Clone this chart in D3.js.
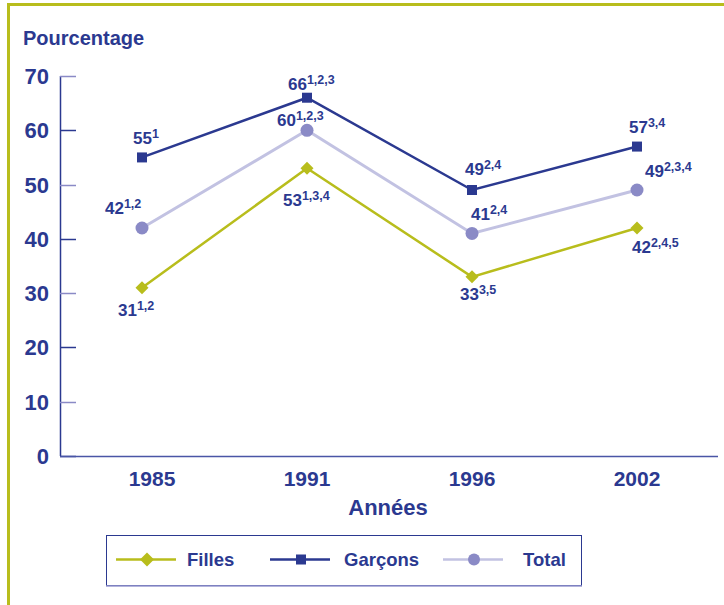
<!DOCTYPE html>
<html>
<head>
<meta charset="utf-8">
<script src="https://cdn.jsdelivr.net/npm/d3@7"></script>
<style>
  body { margin: 0; background: #fff; }
  svg text { font-family: "Liberation Sans", Arial, sans-serif; font-weight: bold; fill: #2b3990; }
</style>
</head>
<body>
<div id="chart"></div>
<script>
// data
var years = ["1985", "1991", "1996", "2002"];
var filles = [31, 53, 33, 42];
var garcons = [55, 66, 49, 57];
var total = [42, 60, 41, 49];
var fillesNotes = ["1,2", "1,3,4", "3,5", "2,4,5"];
var garconsNotes = ["1", "1,2,3", "2,4", "3,4"];
var totalNotes = ["1,2", "1,2,3", "2,4", "2,3,4"];
var yTicks = [0, 10, 20, 30, 40, 50, 60, 70];

var width = 724, height = 605;
var olive = "#b8bd1c", navy = "#2b3990", lav = "#c2c2e2", lavDot = "#8a8ac6";

var svg = d3.select("#chart").append("svg")
  .attr("width", width)
  .attr("height", height);

// frame (top + left only)
svg.append("path")
  .attr("d", "M8.5,605 L8.5,4.5 L724,4.5")
  .attr("fill", "none")
  .attr("stroke", olive)
  .attr("stroke-width", 3);

var x = d3.scalePoint().domain(years).range([142, 637]);
var y = d3.scaleLinear().domain([0, 70]).range([456, 76]);

svg.append("text")
  .attr("x", 23).attr("y", 45)
  .style("font-size", "20px")
  .text("Pourcentage");

// y axis
svg.append("line")
  .attr("x1", 60.5).attr("x2", 60.5)
  .attr("y1", y(70)).attr("y2", y(0))
  .attr("stroke", navy).attr("stroke-width", 1.5);

svg.selectAll(".ytick").data(yTicks).enter().append("line")
  .attr("class", "ytick")
  .attr("x1", 60).attr("x2", 76)
  .attr("y1", d => Math.round(y(d)) + 0.5).attr("y2", d => Math.round(y(d)) + 0.5)
  .attr("stroke", (d, i) => i % 2 == 0 ? navy : "#8a8ac6")
  .attr("stroke-width", 1.5);

svg.selectAll(".ylab").data(yTicks).enter().append("text")
  .attr("class", "ylab")
  .attr("x", 49)
  .attr("y", d => y(d) + 8)
  .attr("text-anchor", "end")
  .style("font-size", "22px")
  .text(d => d);

// x axis
svg.append("line")
  .attr("x1", 60).attr("x2", 718)
  .attr("y1", y(0) + 0.5).attr("y2", y(0) + 0.5)
  .attr("stroke", "#4a56a6").attr("stroke-width", 1.5);

svg.selectAll(".xlab").data(years).enter().append("text")
  .attr("class", "xlab")
  .attr("x", (d, i) => x(d) + (i == 0 ? 10 : 0))
  .attr("y", 486)
  .attr("text-anchor", "middle")
  .style("font-size", "21px")
  .text(d => d);

svg.append("text")
  .attr("x", 388).attr("y", 515)
  .attr("text-anchor", "middle")
  .style("font-size", "22px")
  .text("Années");

var line = d3.line().x((d, i) => x(years[i])).y(d => y(d));

function drawSeries(vals, color, width) {
  svg.append("path")
    .datum(vals)
    .attr("d", line)
    .attr("fill", "none")
    .attr("stroke", color)
    .attr("stroke-width", width);
}
drawSeries(total, lav, 3);
drawSeries(filles, olive, 2.5);
drawSeries(garcons, navy, 2.5);

// markers
svg.selectAll(".dot").data(total).enter().append("circle")
  .attr("cx", (d, i) => x(years[i])).attr("cy", d => y(d))
  .attr("r", 6.5).attr("fill", lavDot);

svg.selectAll(".sq").data(garcons).enter().append("rect")
  .attr("x", (d, i) => x(years[i]) - 5).attr("y", d => y(d) - 5)
  .attr("width", 10).attr("height", 10).attr("fill", navy);

svg.selectAll(".dia").data(filles).enter().append("path")
  .attr("transform", (d, i) => "translate(" + x(years[i]) + "," + y(d) + ")")
  .attr("d", "M0,-6.5 L6.5,0 L0,6.5 L-6.5,0 Z")
  .attr("fill", olive);

// value labels: offset of the label's left edge / baseline from its point
var garconsPos = [[-9, -13], [-19, -8], [-7, -15], [-8, -14]];
var totalPos = [[-37, -14], [-30, -4], [-1, -13], [8, -13]];
var fillesPos = [[-24, 28], [-24, 38], [-12, 23], [-5, 25]];

function labels(vals, notes, pos) {
  vals.forEach(function(v, i) {
    var t = svg.append("text")
      .attr("x", x(years[i]) + pos[i][0])
      .attr("y", y(v) + pos[i][1])
      .style("font-size", "17px");
    t.append("tspan").text(v);
    t.append("tspan")
      .attr("dy", -6)
      .style("font-size", "12.5px")
      .text(notes[i]);
  });
}
labels(garcons, garconsNotes, garconsPos);
labels(total, totalNotes, totalPos);
labels(filles, fillesNotes, fillesPos);

// legend
var lg = svg.append("g");
lg.append("rect")
  .attr("x", 106.5).attr("y", 535.5)
  .attr("width", 475).attr("height", 50)
  .attr("fill", "none").attr("stroke", navy).attr("stroke-width", 1);
lg.append("line")
  .attr("x1", 106).attr("x2", 582).attr("y1", 586).attr("y2", 586)
  .attr("stroke", "#9a9ad0").attr("stroke-width", 1.5);

var legendItems = [
  {name: "Filles", color: olive, x: 116, tx: 187, mark: "dia"},
  {name: "Garçons", color: navy, x: 270, tx: 344, mark: "sq"},
  {name: "Total", color: lav, x: 443, tx: 523, mark: "dot"}
];
legendItems.forEach(function(it) {
  var cy = 559.5;
  lg.append("line")
    .attr("x1", it.x).attr("x2", it.x + 60)
    .attr("y1", cy).attr("y2", cy)
    .attr("stroke", it.color).attr("stroke-width", 2.5);
  var cx = it.x + 31;
  if (it.mark == "dia") {
    lg.append("path")
      .attr("transform", "translate(" + cx + "," + cy + ")")
      .attr("d", "M0,-7 L7,0 L0,7 L-7,0 Z")
      .attr("fill", olive);
  } else if (it.mark == "sq") {
    lg.append("rect")
      .attr("x", cx - 5).attr("y", cy - 5)
      .attr("width", 10).attr("height", 10).attr("fill", navy);
  } else {
    lg.append("circle")
      .attr("cx", cx).attr("cy", cy).attr("r", 6).attr("fill", lavDot);
  }
  lg.append("text")
    .attr("x", it.tx).attr("y", cy + 6)
    .style("font-size", "18.5px")
    .text(it.name);
});
</script>
</body>
</html>
